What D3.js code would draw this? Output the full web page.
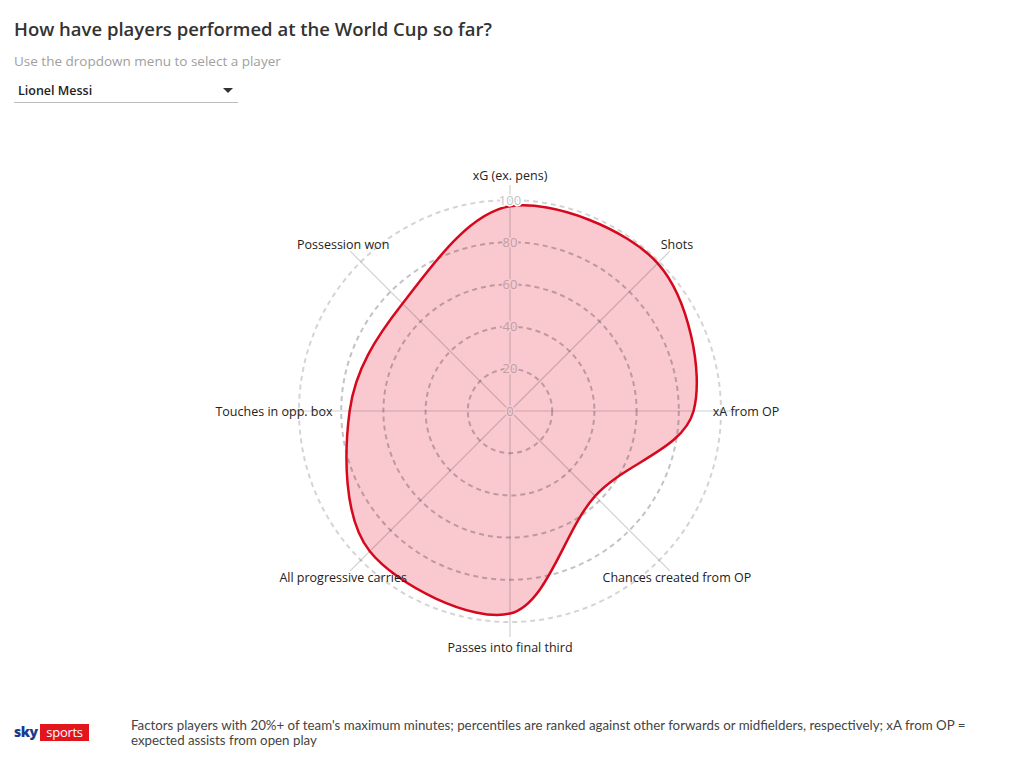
<!DOCTYPE html>
<html>
<head>
<meta charset="utf-8">
<script src="https://cdn.jsdelivr.net/npm/d3@7"></script>
<style>
  body { margin: 0; background: #fff; }
  svg text { font-family: "Open Sans", Lato, sans-serif; }
</style>
</head>
<body>
<div id="chart"></div>
<script>
// radar data for Lionel Messi (percentiles)
const metrics = ["xG (ex. pens)", "Shots", "xA from OP", "Chances created from OP",
                 "Passes into final third", "All progressive carries", "Touches in opp. box", "Possession won"];
const values = [97, 99, 87, 57, 96, 94, 76, 72];
const ticks = [0, 20, 40, 60, 80, 100];

const W = 1020, H = 762;
const cx = 510, cy = 411, R = 211;

const svg = d3.select("#chart").append("svg")
    .attr("width", W).attr("height", H);

// header
svg.append("text").attr("x", 14).attr("y", 36)
   .style("font-size", "18.5px").style("font-weight", 600).style("fill", "#333")
   .text("How have players performed at the World Cup so far?");
svg.append("text").attr("x", 14).attr("y", 66)
   .style("font-size", "13.5px").style("fill", "#a0a0a0")
   .text("Use the dropdown menu to select a player");

// fake dropdown
svg.append("text").attr("x", 18).attr("y", 95)
   .style("font-size", "12.5px").style("font-weight", 600).style("fill", "#222")
   .text("Lionel Messi");
svg.append("path").attr("d", "M223,88 L233,88 L228,93 Z").attr("fill", "#333");
svg.append("line").attr("x1", 14).attr("x2", 238).attr("y1", 102.5).attr("y2", 102.5)
   .attr("stroke", "#bbb").attr("stroke-width", 1);

const r = d3.scaleLinear().domain([0, 100]).range([0, R]);
const angle = d3.scaleBand().domain(metrics).range([0, 2 * Math.PI]).align(0);
const a = m => angle(m);

const g = svg.append("g").attr("transform", `translate(${cx},${cy})`);

// filled shape
const radial = d3.lineRadial()
    .angle((d, i) => a(metrics[i]))
    .radius(d => r(d))
    .curve(d3.curveCardinalClosed);

g.append("path").datum(values)
  .attr("d", radial)
  .attr("fill", "#f9c9cf");

// grid circles
g.selectAll(".ring").data(ticks.filter(t => t > 0)).join("circle")
  .attr("r", d => r(d))
  .attr("fill", "none")
  .attr("stroke", d => d === 100 ? "rgba(0,0,0,0.17)" : "rgba(0,0,0,0.24)")
  .attr("stroke-width", 2)
  .attr("stroke-dasharray", "5,4");

// spokes
g.selectAll(".spoke").data(metrics).join("line")
  .attr("x1", 0).attr("y1", 0)
  .attr("x2", d => Math.sin(a(d)) * (R + 15))
  .attr("y2", d => -Math.cos(a(d)) * (R + 15))
  .attr("stroke", "rgba(0,0,0,0.18)")
  .attr("stroke-width", 1.2);

// outline
g.append("path").datum(values)
  .attr("d", radial)
  .attr("fill", "none")
  .attr("stroke", "#d6081d")
  .attr("stroke-width", 2.5);

// tick labels
g.selectAll(".tick").data(ticks).join("text")
  .attr("x", 0).attr("y", d => -r(d))
  .attr("dy", "0.36em")
  .attr("text-anchor", "middle")
  .style("font-size", "13px")
  .style("fill", d => d === 100 ? "#c4c4c4" : "#c09fa4")
  .style("stroke", d => d === 100 ? "#fff" : "#f9c9cf")
  .style("stroke-width", 3)
  .style("paint-order", "stroke")
  .text(d => d);

// axis labels
g.selectAll(".lab").data(metrics).join("text")
  .attr("x", d => Math.sin(a(d)) * 236)
  .attr("y", d => -Math.cos(a(d)) * 236)
  .attr("dy", "0.36em")
  .attr("text-anchor", "middle")
  .style("font-size", "12.5px")
  .style("fill", "#222")
  .text(d => d);

// footer
const logo = svg.append("g").attr("transform", "translate(14,724)");
logo.append("text").attr("x", 0).attr("y", 13)
  .style("font-size", "14px").style("font-weight", 800).style("fill", "#1a3a8c")
  .style("letter-spacing", "-0.5px")
  .text("sky");
logo.append("rect").attr("x", 26).attr("y", 0).attr("width", 49).attr("height", 17)
  .attr("fill", "#e2141c");
logo.append("text").attr("x", 50.5).attr("y", 13).attr("text-anchor", "middle")
  .style("font-size", "13px").style("fill", "#fff").style("letter-spacing", "-0.3px")
  .text("sports");

const note = svg.append("text").attr("x", 131).attr("y", 730)
  .style("font-size", "12.5px").style("fill", "#444")
  .style("font-family", "Lato, sans-serif");
note.append("tspan").attr("x", 131)
  .style("font-size", "13.3px")
  .text("Factors players with 20%+ of team's maximum minutes; percentiles are ranked against other forwards or midfielders, respectively; xA from OP =");
note.append("tspan").attr("x", 131).attr("dy", 15)
  .style("font-size", "13.3px")
  .text("expected assists from open play");
</script>
</body>
</html>
